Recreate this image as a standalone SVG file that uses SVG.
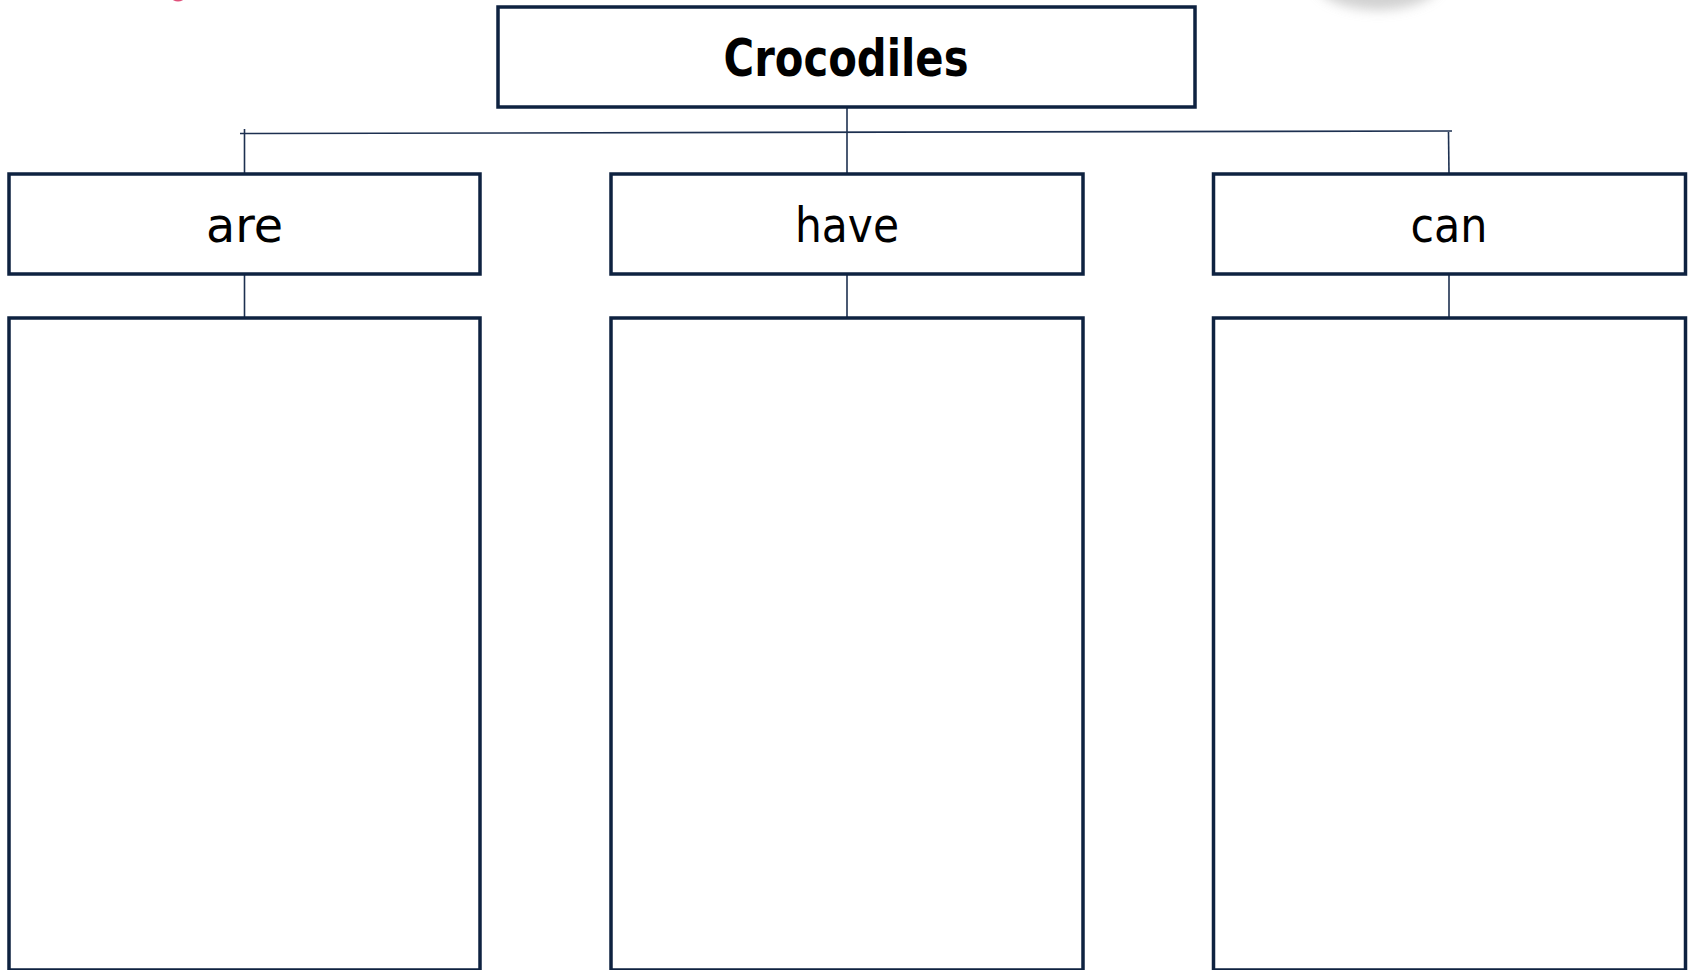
<svg xmlns="http://www.w3.org/2000/svg" width="1690" height="970" viewBox="0 0 1690 970">
  <style>
    .box { fill: #ffffff; stroke: #0e2240; stroke-width: 3.5; }
    .conn { fill: none; stroke: #1d3050; stroke-width: 1.6; }
    .lbl { font-family: "Comic Sans MS", "DejaVu Sans", "Liberation Sans", sans-serif; fill: #000000; text-anchor: middle; }
    .title { font-size: 52px; font-weight: bold; }
    .sub { font-size: 48px; }
  </style>
  <defs>
    <filter id="blur" x="-50%" y="-50%" width="200%" height="200%">
      <feGaussianBlur stdDeviation="6"/>
    </filter>
  </defs>
  <rect width="1690" height="970" fill="#ffffff"/>
  <ellipse cx="1378" cy="-18" rx="62" ry="28" fill="#bdbdbd" filter="url(#blur)" opacity="0.7"/>
  <ellipse cx="178" cy="-2" rx="6" ry="3.5" fill="#e0507a"/>

  <g id="connectors">
    <path class="conn" d="M240,133.5 L1452,131"/>
    <path class="conn" d="M244.5,129 L244.5,174"/>
    <path class="conn" d="M847,107 L847,174"/>
    <path class="conn" d="M1448.5,132 L1449,174"/>
    <path class="conn" d="M244.5,274 L244.5,318"/>
    <path class="conn" d="M847,274 L847,318"/>
    <path class="conn" d="M1449,274 L1449,318"/>
  </g>

  <g id="node-crocodiles">
    <rect class="box" x="498" y="7" width="697" height="100"/>
    <text class="lbl title" x="846" y="76" textLength="245" lengthAdjust="spacingAndGlyphs">Crocodiles</text>
  </g>
  <g id="node-are">
    <rect class="box" x="9" y="174" width="471" height="100"/>
    <text class="lbl sub" x="244.5" y="242" textLength="77" lengthAdjust="spacingAndGlyphs">are</text>
  </g>
  <g id="node-have">
    <rect class="box" x="611" y="174" width="472" height="100"/>
    <text class="lbl sub" x="847" y="242" textLength="104" lengthAdjust="spacingAndGlyphs">have</text>
  </g>
  <g id="node-can">
    <rect class="box" x="1213.5" y="174" width="472" height="100"/>
    <text class="lbl sub" x="1449" y="242" textLength="77" lengthAdjust="spacingAndGlyphs">can</text>
  </g>
  <g id="node-are-list">
    <rect class="box" x="9" y="318" width="471" height="652"/>
  </g>
  <g id="node-have-list">
    <rect class="box" x="611" y="318" width="472" height="652"/>
  </g>
  <g id="node-can-list">
    <rect class="box" x="1213.5" y="318" width="472" height="652"/>
  </g>
</svg>
